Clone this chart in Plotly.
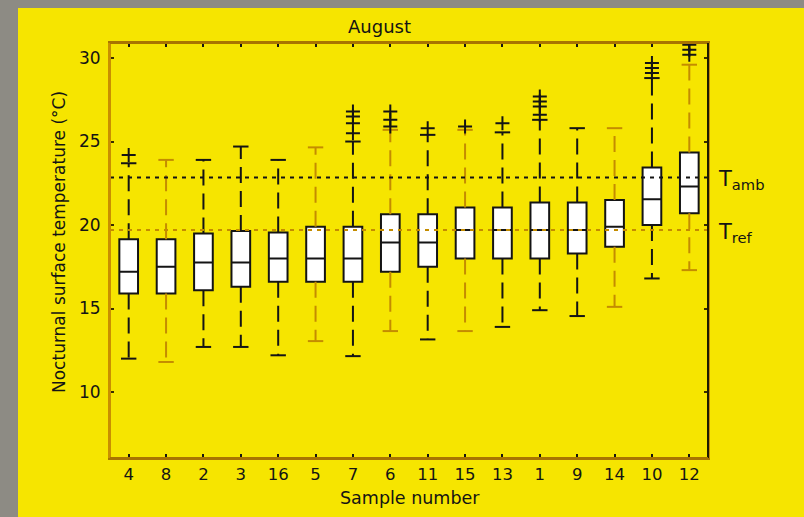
import plotly.graph_objects as go

# Sample order along the x axis (sorted by median surface temperature)
samples = ["4", "8", "2", "3", "16", "5", "7", "6", "11", "15", "13", "1", "9", "14", "10", "12"]

# Box statistics, nocturnal surface temperature (°C)
q1 = [15.9, 15.9, 16.1, 16.3, 16.6, 16.6, 16.6, 17.2, 17.5, 18.0, 18.0, 18.0, 18.3, 18.7, 20.0, 20.7]
median = [17.2, 17.5, 17.75, 17.75, 18.0, 18.0, 18.0, 18.95, 18.95, 19.7, 19.7, 19.7, 19.7, 19.9, 21.55, 22.3]
q3 = [19.15, 19.15, 19.5, 19.65, 19.55, 19.9, 19.9, 20.65, 20.65, 21.05, 21.05, 21.35, 21.35, 21.5, 23.45, 24.35]
whisker_low = [12.0, 11.8, 12.7, 12.7, 12.2, 13.05, 12.15, 13.65, 13.15, 13.65, 13.9, 14.9, 14.55, 15.1, 16.8, 17.3]
whisker_high = [23.7, 23.9, 23.9, 24.7, 23.9, 24.65, 25.0, 25.7, 25.4, 25.7, 25.55, 26.3, 25.8, 25.8, 28.8, 29.6]

# Points beyond the whiskers
outliers = {
    "4": [24.2],
    "7": [25.5, 26.1, 26.5, 26.8],
    "6": [25.9, 26.3, 26.8],
    "11": [25.8],
    "15": [25.9],
    "13": [26.1],
    "1": [26.6, 27.1, 27.4, 27.7],
    "10": [29.1, 29.4, 29.7],
    "12": [30.2, 30.5, 30.8],
}

# Reference temperatures (°C)
t_amb = 22.85
t_ref = 19.7

y_ticks = [10, 15, 20, 25, 30]
y_range = [6.05, 30.9]

# ---- styling ----
W, H = 804, 517
ML, MR, MT, MB = 110, 96, 43, 59
PW, PH = W - ML - MR, H - MT - MB
YELLOW = "#F6E500"
STONE = "#8d8b84"
INK = "#141414"
TAN = "#c48c00"
FONT = "DejaVu Sans"
tan_samples = {"8", "5", "6", "15", "14", "12"}


def px_x(px):
    return (px - ML) / PW


def px_y(py):
    return (H - MB - py) / PH


fig = go.Figure()

# Boxes (interquartile range with median)
fig.add_trace(go.Box(
    x=samples, q1=q1, median=median, q3=q3,
    lowerfence=q1, upperfence=q3,
    width=0.5, whiskerwidth=0,
    fillcolor="white", line=dict(color=INK, width=2),
    boxpoints=False, showlegend=False, hoverinfo="skip",
))

# Dashed whiskers with end caps
for color, in_group in ((INK, lambda s: s not in tan_samples), (TAN, lambda s: s in tan_samples)):
    wx, wy, cx, cy = [], [], [], []
    for i, s in enumerate(samples):
        if not in_group(s):
            continue
        wx += [s, s, None, s, s, None]
        wy += [q3[i], whisker_high[i], None, q1[i], whisker_low[i], None]
        cx += [s, s]
        cy += [whisker_high[i], whisker_low[i]]
    fig.add_trace(go.Scatter(
        x=wx, y=wy, mode="lines", connectgaps=False,
        line=dict(color=color, width=2, dash="16px,8px"),
        showlegend=False, hoverinfo="skip",
    ))
    fig.add_trace(go.Scatter(
        x=cx, y=cy, mode="markers",
        marker=dict(symbol="line-ew", size=11, color=color, line=dict(color=color, width=2)),
        showlegend=False, hoverinfo="skip",
    ))

# Outliers as "+" markers
ox, oy = [], []
for s, vals in outliers.items():
    ox += [s] * len(vals)
    oy += vals
fig.add_trace(go.Scatter(
    x=ox, y=oy, mode="markers",
    marker=dict(symbol="cross-thin", size=10, color=INK, line=dict(color=INK, width=2)),
    showlegend=False, hoverinfo="skip",
))

shapes = [
    # stone backdrop strips around the yellow panel
    dict(type="rect", xref="paper", yref="paper", x0=px_x(0), x1=px_x(W), y0=px_y(8), y1=px_y(0),
         fillcolor=STONE, line=dict(width=0), layer="below"),
    dict(type="rect", xref="paper", yref="paper", x0=px_x(0), x1=px_x(18), y0=px_y(H), y1=px_y(0),
         fillcolor=STONE, line=dict(width=0), layer="below"),
    # reference temperature lines
    dict(type="line", xref="paper", x0=0, x1=1, yref="y", y0=t_amb, y1=t_amb,
         line=dict(color=INK, width=2, dash="4px,5px"), layer="above"),
    dict(type="line", xref="paper", x0=0, x1=1, yref="y", y0=t_ref, y1=t_ref,
         line=dict(color=TAN, width=2, dash="4px,5px"), layer="above"),
    # plot frame
    dict(type="line", xref="paper", yref="paper", x0=0, x1=0, y0=0, y1=1,
         line=dict(color="#c98f00", width=2), layer="above"),
    dict(type="line", xref="paper", yref="paper", x0=0, x1=1, y0=1, y1=1,
         line=dict(color="#a87400", width=2), layer="above"),
    dict(type="line", xref="paper", yref="paper", x0=1, x1=1, y0=0, y1=1,
         line=dict(color="#1e1a00", width=2), layer="above"),
    dict(type="line", xref="paper", yref="paper", x0=0, x1=1, y0=0, y1=0,
         line=dict(color="#a87400", width=2), layer="above"),
]

annotations = [
    dict(text="August", xref="paper", yref="paper", x=px_x(379), y=px_y(27),
         xanchor="center", yanchor="middle", showarrow=False,
         font=dict(family=FONT, size=18, color=INK)),
    dict(text="Sample number", xref="paper", yref="paper", x=px_x(410), y=px_y(498),
         xanchor="center", yanchor="middle", showarrow=False,
         font=dict(family=FONT, size=17.5, color=INK)),
    dict(text="Nocturnal surface temperature (°C)", xref="paper", yref="paper",
         x=px_x(59), y=px_y(242), textangle=-90,
         xanchor="center", yanchor="middle", showarrow=False,
         font=dict(family=FONT, size=17, color=INK)),
    dict(text="T<sub>amb</sub>", xref="paper", yref="y", x=px_x(716), y=t_amb,
         xanchor="left", yanchor="middle", showarrow=False, yshift=-3,
         font=dict(family=FONT, size=21, color=INK)),
    dict(text="T<sub>ref</sub>", xref="paper", yref="y", x=px_x(716), y=t_ref,
         xanchor="left", yanchor="middle", showarrow=False, yshift=-3,
         font=dict(family=FONT, size=21, color=INK)),
]

fig.update_layout(
    width=W, height=H,
    margin=dict(l=ML, r=MR, t=MT, b=MB, pad=0),
    paper_bgcolor=YELLOW, plot_bgcolor=YELLOW,
    font=dict(family=FONT, size=17, color=INK),
    showlegend=False,
    shapes=shapes,
    annotations=annotations,
    xaxis=dict(
        type="category", categoryorder="array", categoryarray=samples,
        range=[-0.5, len(samples) - 0.5],
        showgrid=False, zeroline=False,
        showline=True, linecolor="#a87400", linewidth=2, mirror="ticks",
        ticks="inside", ticklen=4, tickwidth=1.5, tickcolor=INK,
        tickfont=dict(family=FONT, size=16.5, color=INK),
        ticklabelstandoff=0,
    ),
    yaxis=dict(
        range=y_range, tickvals=y_ticks,
        showgrid=False, zeroline=False,
        showline=True, linecolor="#c98f00", linewidth=2, mirror="ticks",
        ticks="inside", ticklen=4, tickwidth=1.5, tickcolor="#3a2c00",
        tickfont=dict(family=FONT, size=17, color=INK),
        ticklabelstandoff=4,
    ),
)

fig.write_html("out.html")
